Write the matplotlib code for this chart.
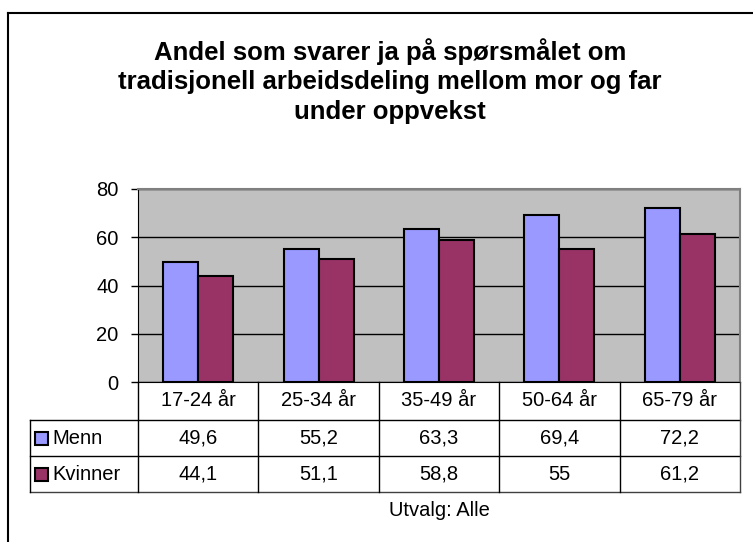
import matplotlib
matplotlib.use("Agg")
import matplotlib.pyplot as plt
from matplotlib.lines import Line2D
from matplotlib.patches import Rectangle
import numpy as np

categories = ["17-24 år", "25-34 år", "35-49 år", "50-64 år", "65-79 år"]
series_names = ["Menn", "Kvinner"]
menn = [49.6, 55.2, 63.3, 69.4, 72.2]
kvinner = [44.1, 51.1, 58.8, 55, 61.2]
menn_labels = ["49,6", "55,2", "63,3", "69,4", "72,2"]
kvinner_labels = ["44,1", "51,1", "58,8", "55", "61,2"]
yticks = [0, 20, 40, 60, 80]
title = "Andel som svarer ja på spørsmålet om\ntradisjonell arbeidsdeling mellom mor og far\nunder oppvekst"
footnote = "Utvalg: Alle"

colors = ["#9999FF", "#993366"]
W, H = 753, 542
plt.rcParams['font.family'] = ['Liberation Sans', 'DejaVu Sans']
FS = 14.5

fig = plt.figure(figsize=(W / 100, H / 100), dpi=100)

def fx(x):
    return x / W

def fy(y):
    return 1 - y / H

def hline(x0, x1, y, color="black", lw=1.0):
    fig.add_artist(Line2D([fx(x0), fx(x1)], [fy(y), fy(y)], color=color, lw=lw,
                          transform=fig.transFigure))

def vline(x, y0, y1, color="black", lw=1.0):
    fig.add_artist(Line2D([fx(x), fx(x)], [fy(y0), fy(y1)], color=color, lw=lw,
                          transform=fig.transFigure))

# outer frame (left and top visible)
vline(8, 13, 545, lw=1.5)
hline(8, 760, 13, lw=1.5)

L, R, T, B = 138, 740, 189, 382
ax = fig.add_axes([fx(L), fy(B), fx(R) - fx(L), (B - T) / H])
ax.set_facecolor("#C0C0C0")
x = np.arange(len(categories))
bw = 0.29
ax.bar(x - bw / 2, menn, bw, color=colors[0], edgecolor="black", linewidth=1.5, zorder=3)
ax.bar(x + bw / 2, kvinner, bw, color=colors[1], edgecolor="black", linewidth=1.5, zorder=3)
ax.set_xlim(-0.5, len(categories) - 0.5)
ax.set_ylim(0, 80)
ax.set_yticks(yticks)
ax.set_yticklabels([str(v) for v in yticks], fontsize=FS)
ax.set_xticks([])
ax.yaxis.grid(True, color="black", lw=1.0, zorder=1)
ax.set_axisbelow(True)
ax.tick_params(axis="y", length=5, width=1, pad=9, color="black")
for s in ["top", "right"]:
    ax.spines[s].set_color("#808080")
    ax.spines[s].set_linewidth(1.5)
ax.spines["left"].set_color("black")
ax.spines["bottom"].set_color("black")

# title
fig.text(fx(390), fy(81), title, ha="center", va="center", fontsize=18.5,
         fontweight="bold", linespacing=1.27)

# data table
fig.canvas.draw()
def px_of(xd):
    return ax.transData.transform((xd, 0))[0]

row_y = [B, 420, 456, 492]
tl = 30
hline(tl, R, row_y[1])
hline(tl, R, row_y[2])
hline(tl, R, row_y[3], color="#404040")
vline(tl, row_y[1], row_y[3])
for i in range(len(categories) + 1):
    xp = px_of(i - 0.5)
    vline(xp, B, row_y[3], color="#404040" if i == len(categories) else "black")
for i, cat in enumerate(categories):
    xc = px_of(i)
    fig.text(fx(xc), fy((row_y[0] + row_y[1]) / 2), cat, ha="center", va="center", fontsize=FS)
    fig.text(fx(xc), fy((row_y[1] + row_y[2]) / 2), menn_labels[i], ha="center", va="center", fontsize=FS)
    fig.text(fx(xc), fy((row_y[2] + row_y[3]) / 2), kvinner_labels[i], ha="center", va="center", fontsize=FS)
for j, name in enumerate(series_names):
    yc = (row_y[j + 1] + row_y[j + 2]) / 2
    fig.add_artist(Rectangle((fx(35), fy(yc + 6.5)), fx(13), 13 / H, facecolor=colors[j],
                             edgecolor="black", lw=1.5, transform=fig.transFigure))
    fig.text(fx(52), fy(yc), name, ha="left", va="center", fontsize=FS)

fig.text(fx(px_of((len(categories) - 1) / 2)), fy(511), footnote, ha="center", va="center", fontsize=FS)

fig.savefig("out.png", dpi=100)
